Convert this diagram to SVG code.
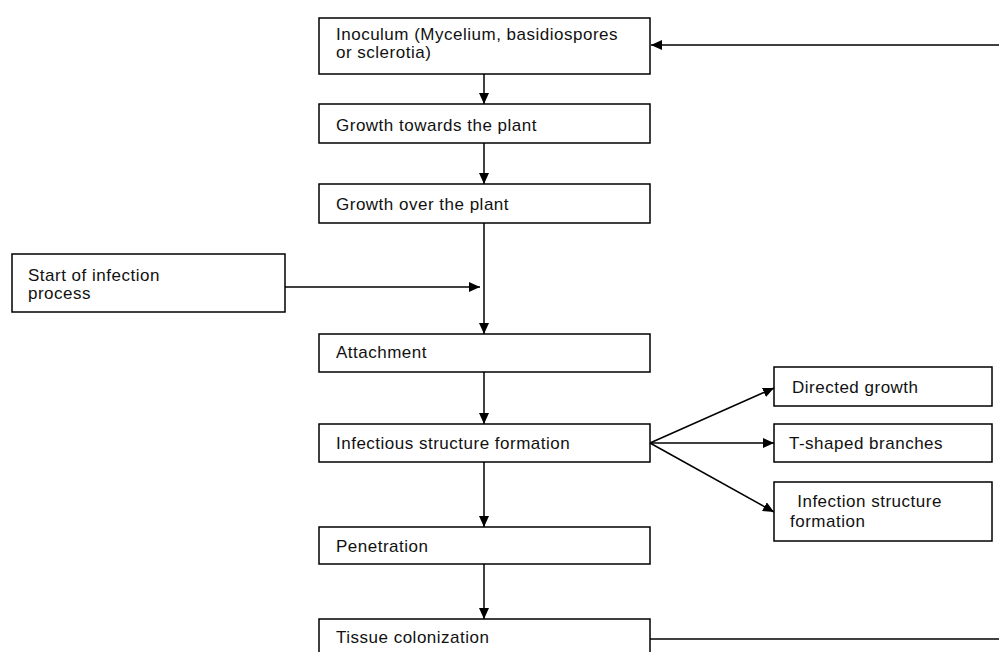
<svg xmlns="http://www.w3.org/2000/svg" width="999" height="652" viewBox="0 0 999 652">
<style>
.box{fill:#fff;stroke:#000;stroke-width:1.5}
.t{font-family:"Liberation Sans",Arial,sans-serif;font-size:17px;letter-spacing:0.5px;fill:#111}
.c{stroke:#000;stroke-width:1.5;fill:none}
</style>
<defs>
<marker id="ah" viewBox="0 0 11 10" refX="11" refY="5" markerWidth="11" markerHeight="10" markerUnits="userSpaceOnUse" orient="auto">
<path d="M0,0 L11,5 L0,10 z" fill="#000"/>
</marker>
</defs>
<rect width="999" height="652" fill="#fff"/>
<g id="connectors">
<line class="c" x1="484" y1="74" x2="484" y2="104" marker-end="url(#ah)"/>
<line class="c" x1="484" y1="143" x2="484" y2="184" marker-end="url(#ah)"/>
<line class="c" x1="484" y1="223" x2="484" y2="334" marker-end="url(#ah)"/>
<line class="c" x1="285" y1="287" x2="480" y2="287" marker-end="url(#ah)"/>
<line class="c" x1="484" y1="372" x2="484" y2="424" marker-end="url(#ah)"/>
<line class="c" x1="484" y1="462" x2="484" y2="527" marker-end="url(#ah)"/>
<line class="c" x1="484" y1="564" x2="484" y2="619" marker-end="url(#ah)"/>
<line class="c" x1="650" y1="443" x2="774" y2="388" marker-end="url(#ah)"/>
<line class="c" x1="650" y1="443" x2="774" y2="443" marker-end="url(#ah)"/>
<line class="c" x1="650" y1="443" x2="774" y2="512" marker-end="url(#ah)"/>
<line class="c" x1="650" y1="639" x2="999" y2="639"/>
<line class="c" x1="999" y1="45" x2="651" y2="45" marker-end="url(#ah)"/>
</g>
<g id="inoculum"><rect class="box" x="319" y="18" width="331" height="56"/><text class="t" x="336" y="40">Inoculum (Mycelium, basidiospores</text><text class="t" x="336" y="58">or sclerotia)</text></g>
<g id="growth-towards"><rect class="box" x="319" y="104" width="331" height="39"/><text class="t" x="336" y="131">Growth towards the plant</text></g>
<g id="growth-over"><rect class="box" x="319" y="184" width="331" height="39"/><text class="t" x="336" y="210">Growth over the plant</text></g>
<g id="start"><rect class="box" x="12" y="254" width="273" height="58"/><text class="t" x="28" y="281">Start of infection</text><text class="t" x="28" y="299">process</text></g>
<g id="attachment"><rect class="box" x="319" y="334" width="331" height="38"/><text class="t" x="336" y="358">Attachment</text></g>
<g id="infectious"><rect class="box" x="319" y="424" width="331" height="38"/><text class="t" x="336" y="449">Infectious structure formation</text></g>
<g id="penetration"><rect class="box" x="319" y="527" width="331" height="37"/><text class="t" x="336" y="552">Penetration</text></g>
<g id="tissue"><rect class="box" x="319" y="619" width="331" height="45"/><text class="t" x="336" y="643">Tissue colonization</text></g>
<g id="directed"><rect class="box" x="774" y="367" width="218" height="39"/><text class="t" x="792" y="393">Directed growth</text></g>
<g id="tshaped"><rect class="box" x="774" y="424" width="218" height="38"/><text class="t" x="789" y="449">T-shaped branches</text></g>
<g id="infection-structure"><rect class="box" x="774" y="482" width="218" height="59"/><text class="t" x="792" y="507" xml:space="preserve"> Infection structure</text><text class="t" x="790" y="527">formation</text></g>
</svg>
